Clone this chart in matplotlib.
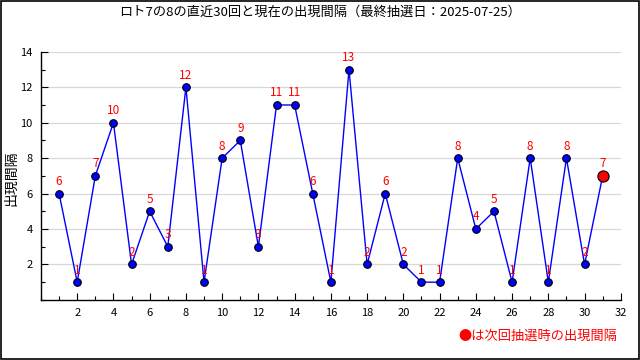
import matplotlib
matplotlib.use("Agg")
import matplotlib.pyplot as plt
from matplotlib.ticker import MultipleLocator
from matplotlib.patches import Rectangle

plt.rcParams['font.family'] = ['Noto Sans CJK JP', 'DejaVu Sans']

draws = list(range(1, 32))
intervals = [6, 1, 7, 10, 2, 5, 3, 12, 1, 8, 9, 3, 11, 11, 6, 1, 13, 2, 6, 2,
             1, 1, 8, 4, 5, 1, 8, 1, 8, 2, 7]
title = "ロト7の8の直近30回と現在の出現間隔（最終抽選日：2025-07-25）"
ylabel = "出現間隔"
note = "●は次回抽選時の出現間隔"

fig = plt.figure(figsize=(6.4, 3.6), dpi=100)
ax = fig.add_axes([0.064, 0.167, 0.906, 0.689])

ax.plot(draws, intervals, color='#0000ff', lw=1.0, zorder=2)
ax.scatter(draws[:-1], intervals[:-1], s=30, color='#0000ff', edgecolors='black',
           linewidths=0.8, zorder=3)
ax.scatter(draws[-1:], intervals[-1:], s=65, color='#ff0000', edgecolors='black',
           linewidths=0.8, zorder=4)
for x, y in zip(draws, intervals):
    ax.annotate(str(y), (x, y), xytext=(0, 4), textcoords='offset points',
                ha='center', va='bottom', color='#ff0000', fontsize=8.5, zorder=5)

ax.set_xlim(0, 32)
ax.set_ylim(0, 14)
ax.xaxis.set_minor_locator(MultipleLocator(1))
ax.yaxis.set_minor_locator(MultipleLocator(1))
ax.set_xticks(range(2, 33, 2))
ax.set_yticks(range(2, 15, 2))
ax.tick_params(which='major', direction='in', length=5, width=0.8, labelsize=8, pad=6)
ax.tick_params(which='minor', direction='in', length=3, width=0.8)
ax.grid(axis='y', which='major', color='#d8d8d8', lw=0.9)
ax.set_axisbelow(True)
for s in ['top', 'right']:
    ax.spines[s].set_visible(False)
for s in ['left', 'bottom']:
    ax.spines[s].set_linewidth(1.0)

ax.set_ylabel(ylabel, fontsize=10)
ax.yaxis.set_label_coords(-0.040, 0.49)
fig.text(0.5, 0.965, title, ha='center', va='center', fontsize=9.5)
fig.text(0.965, 0.065, note, ha='right', va='center', fontsize=9.5, color='#ff0000')

fig.patches.append(Rectangle((0.001, 0.002), 0.997, 0.995, transform=fig.transFigure,
                             fill=False, edgecolor='black', lw=1.2))

fig.savefig('out.png', dpi=100)
